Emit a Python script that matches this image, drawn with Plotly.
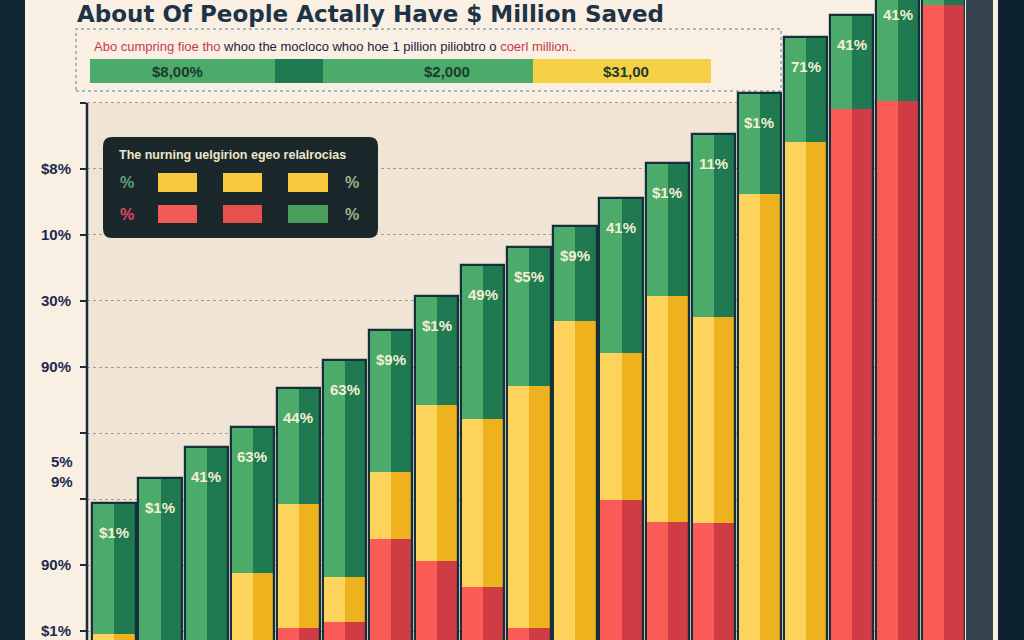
import plotly.graph_objects as go

# ---------------- data ----------------
bar_ids = [1, 2, 3, 4, 5, 6, 7, 8, 9, 10, 11, 12, 13, 14, 15, 16, 17, 18, 19]
red_vals = [0, 0, 0, 0, 10.5, 11.4, 23.9, 20.6, 16.7, 10.5, 0, 29.8, 26.5, 26.4, 0, 0, 89.1, 90.3, 104.8]
yellow_vals = [9.5, 0, 0, 18.8, 18.7, 6.8, 10.2, 23.6, 25.4, 36.6, 57.0, 22.3, 34.3, 31.2, 76.2, 84.1, 0, 0, 0]
green_vals = [19.9, 33.2, 37.9, 22.1, 17.6, 32.9, 21.5, 16.6, 23.4, 21.1, 14.4, 23.5, 20.1, 27.7, 15.3, 15.9, 14.2, 19.1, 7.6]
bar_labels = ["$1%", "$1%", "41%", "63%", "44%", "63%", "$9%", "$1%", "49%", "$5%",
              "$9%", "41%", "$1%", "11%", "$1%", "71%", "41%", "41%", ""]

tick_vals = [10, 20, 30, 40, 50, 60, 70, 80, 90]
tick_text = ["$1%", "90%", "", "", "90%", "30%", "10%", "$8%", ""]
split_tick_label = "5%<br>9%"
split_tick_value = 34.2

title_text = "About Of People Actally Have $ Million Saved"
subtitle_red_a = "Abo cumpring fioe tho"
subtitle_mid = " whoo the mocloco whoo hoe 1 pillion piliobtro o "
subtitle_red_b = "coerl million.."
strip_labels = ["$8,00%", "$2,000", "$31,00"]
legend_title = "The nurning uelgirion egeo relalrocias"
legend_symbol = "%"

# ---------------- style ----------------
W, H = 1024, 640
L, R = 87, 965
Y_RANGE = [8.64, 105.6]

RED_L, RED_D = "#fb5b57", "#cf3c44"
YEL_L, YEL_D = "#fdd35b", "#eeb21e"
GRN_L, GRN_D = "#4caa6a", "#1f7a52"
OUTLINE = "#15303a"
NAVY = "#1c2b4f"
FONT = "Liberation Sans"


def px(x):
    return (x - L) / (R - L)


def py(y):
    return 1 - y / H


def rounded_rect(x0, y0, x1, y1, r):
    X, Y = px, py
    return (f"M {X(x0 + r)},{Y(y0)} L {X(x1 - r)},{Y(y0)} Q {X(x1)},{Y(y0)} {X(x1)},{Y(y0 + r)} "
            f"L {X(x1)},{Y(y1 - r)} Q {X(x1)},{Y(y1)} {X(x1 - r)},{Y(y1)} "
            f"L {X(x0 + r)},{Y(y1)} Q {X(x0)},{Y(y1)} {X(x0)},{Y(y1 - r)} "
            f"L {X(x0)},{Y(y0 + r)} Q {X(x0)},{Y(y0)} {X(x0 + r)},{Y(y0)} Z")


base_yellow = list(red_vals)
base_green = [r + y for r, y in zip(red_vals, yellow_vals)]
totals = [b + g for b, g in zip(base_green, green_vals)]

fig = go.Figure()

segments = [
    (red_vals, [0] * len(bar_ids), RED_L, RED_D),
    (yellow_vals, base_yellow, YEL_L, YEL_D),
    (green_vals, base_green, GRN_L, GRN_D),
]
for vals, base, cl, cd in segments:
    fig.add_trace(go.Bar(x=bar_ids, y=vals, base=base, width=0.48, offset=-0.47,
                         marker=dict(color=cl, line=dict(width=0)), hoverinfo="skip"))
    fig.add_trace(go.Bar(x=bar_ids, y=vals, base=base, width=0.46, offset=0.01,
                         marker=dict(color=cd, line=dict(width=0)), hoverinfo="skip"))

fig.add_trace(go.Bar(x=bar_ids, y=totals, base=0, width=0.94, offset=-0.47,
                     marker=dict(color="rgba(0,0,0,0)", line=dict(color=OUTLINE, width=2.2)),
                     hoverinfo="skip"))

shapes = []
# plot inner background
shapes.append(dict(type="rect", xref="paper", yref="y", x0=0, x1=1, y0=0, y1=90,
                   fillcolor="#f0e4d4", line=dict(width=0), layer="below"))
# left frame
shapes.append(dict(type="rect", xref="paper", yref="paper", x0=px(0), x1=px(25), y0=0, y1=1,
                   fillcolor="#0f2634", line=dict(width=0), layer="above"))
# right frame
shapes.append(dict(type="rect", xref="paper", yref="paper", x0=px(966), x1=px(993), y0=0, y1=1,
                   fillcolor="#35444f", line=dict(width=0), layer="above"))
shapes.append(dict(type="rect", xref="paper", yref="paper", x0=px(993), x1=px(998), y0=0, y1=1,
                   fillcolor="#f7eee0", line=dict(width=0), layer="above"))
shapes.append(dict(type="rect", xref="paper", yref="paper", x0=px(998), x1=px(1024), y0=0, y1=1,
                   fillcolor="#0c2230", line=dict(width=0), layer="above"))
# subtitle dotted box
shapes.append(dict(type="rect", xref="paper", yref="paper", x0=px(76), x1=px(781), y0=py(91), y1=py(29),
                   line=dict(color="#8ea6b2", width=1.5, dash="dot"), layer="below"))
# subtitle strip
strip = [(90, 275, GRN_L), (275, 323, GRN_D), (323, 533, GRN_L), (533, 711, "#f5cf45")]
for x0, x1, c in strip:
    shapes.append(dict(type="rect", xref="paper", yref="paper", x0=px(x0), x1=px(x1), y0=py(83), y1=py(59),
                       fillcolor=c, line=dict(width=0), layer="below"))
# y axis line
shapes.append(dict(type="line", xref="paper", yref="y", x0=0, x1=0, y0=0, y1=90,
                   line=dict(color="#1a2b40", width=2.5), layer="above"))
# legend box
shapes.append(dict(type="path", xref="paper", yref="paper", path=rounded_rect(103, 137, 378, 238, 9),
                   fillcolor="#1a282c", line=dict(width=0), layer="above"))
legend_swatches = [
    (158, 197, 173, 192, "#f8c93e"), (223, 262, 173, 192, "#f8c93e"), (288, 328, 173, 192, "#f8c93e"),
    (158, 197, 205, 223, "#f25a55"), (223, 262, 205, 223, "#e6504f"), (288, 328, 205, 223, "#4c9e5c"),
]
for x0, x1, y0, y1, c in legend_swatches:
    shapes.append(dict(type="rect", xref="paper", yref="paper", x0=px(x0), x1=px(x1), y0=py(y1), y1=py(y0),
                       fillcolor=c, line=dict(width=0), layer="above"))

annotations = []
annotations.append(dict(text=title_text, xref="paper", yref="paper", x=px(75), y=py(14),
                        xanchor="left", yanchor="middle", showarrow=False,
                        font=dict(family="DejaVu Sans", size=23, color="#1d3446", weight=700)))
annotations.append(dict(text=(f"<span style='color:#c43c4c'>{subtitle_red_a}</span>{subtitle_mid}"
                              f"<span style='color:#c43c4c'>{subtitle_red_b}</span>"),
                        xref="paper", yref="paper", x=px(92), y=py(46), xanchor="left", yanchor="middle",
                        showarrow=False, font=dict(family=FONT, size=13, color="#1d2340")))
for lbl, xc in zip(strip_labels, [177, 447, 626]):
    annotations.append(dict(text=lbl, xref="paper", yref="paper", x=px(xc), y=py(71),
                            xanchor="center", yanchor="middle", showarrow=False,
                            font=dict(family=FONT, size=15, color="#1d3a2e", weight=700)))
annotations.append(dict(text=legend_title, xref="paper", yref="paper", x=px(117), y=py(155),
                        xanchor="left", yanchor="middle", showarrow=False,
                        font=dict(family=FONT, size=12.5, color="#efe6c8", weight=700)))
for xc, yc, c in [(127, 183, "#5aa078"), (352, 183, "#9bb58a"), (127, 214, "#e0475e"), (352, 214, "#9bb58a")]:
    annotations.append(dict(text=legend_symbol, xref="paper", yref="paper", x=px(xc), y=py(yc),
                            xanchor="center", yanchor="middle", showarrow=False,
                            font=dict(family=FONT, size=16, color=c, weight=700)))
annotations.append(dict(text=split_tick_label, xref="paper", yref="y", x=px(75), y=split_tick_value,
                        xanchor="right", yanchor="middle", showarrow=False,
                        font=dict(family=FONT, size=15, color=NAVY, weight=700)))
for xi, tot, lbl in zip(bar_ids, totals, bar_labels):
    if lbl:
        annotations.append(dict(text=lbl, xref="x", yref="y", x=xi, y=min(tot - 4.5, 103.4),
                                xanchor="center", yanchor="middle", showarrow=False,
                                font=dict(family=FONT, size=15, color="#f3efcf", weight=700)))

fig.update_layout(
    width=W, height=H,
    margin=dict(l=L, r=W - R, t=0, b=0),
    paper_bgcolor="#f9efe2",
    plot_bgcolor="rgba(0,0,0,0)",
    barmode="overlay",
    bargap=0,
    showlegend=False,
    xaxis=dict(range=[0.414, 19.46], visible=False, fixedrange=True),
    yaxis=dict(range=Y_RANGE, tickvals=tick_vals, ticktext=tick_text,
               showgrid=True, gridcolor="#a39b90", griddash="dot", gridwidth=1,
               ticks="outside", ticklen=6, tickwidth=2, tickcolor="#1a2b40",
               tickfont=dict(family=FONT, size=15, color=NAVY, weight=700),
               ticklabelstandoff=6, zeroline=False, showline=False, fixedrange=True),
    shapes=shapes,
    annotations=annotations,
)

fig.write_html("out.html", config={"displayModeBar": False},
               post_script="document.body.style.margin='0';document.body.style.padding='0';")
